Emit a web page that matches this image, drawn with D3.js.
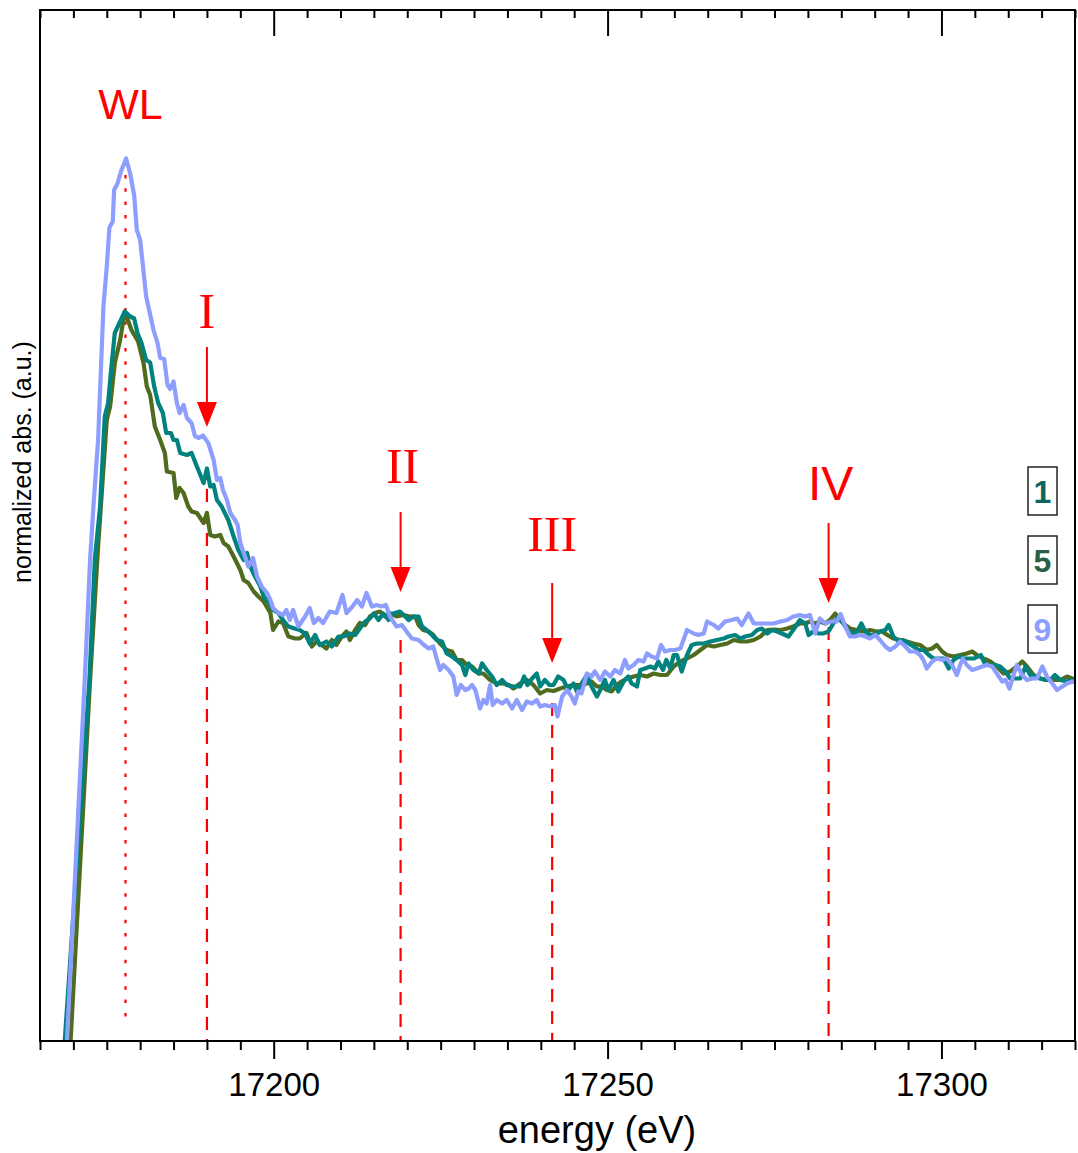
<!DOCTYPE html>
<html lang="en">
<head>
  <meta charset="UTF-8" />
  <title>XANES spectra</title>
  <script src="https://d3js.org/d3.v7.min.js"></script>
  <style>
    body { margin: 0; background: #fff; }
    svg { display: block; font-family: Arial, 'Liberation Sans', sans-serif; }
  </style>
</head>
<body>
<script>
  // series "5" (olive)
  const energy5 = [17169.1,17172.5,17173.7,17175.0,17175.5,17176.2,17177.0,17177.7,17178.7,17179.7,17180.5,17181.0,17181.5,17182.2,17183.0,17183.7,17184.0,17185.0,17185.4,17185.9,17186.5,17187.2,17187.7,17188.5,17189.5,17190.0,17190.5,17191.2,17192.0,17192.5,17193.2,17194.0,17195.0,17195.5,17196.2,17197.0,17197.7,17198.5,17199.5,17199.9,17200.7,17201.4,17202.2,17203.2,17203.9,17204.9,17205.7,17206.4,17207.2,17207.9,17208.7,17209.4,17210.2,17210.9,17211.4,17212.2,17212.9,17213.7,17214.4,17215.2,17215.9,17216.7,17217.4,17218.4,17219.4,17220.4,17221.2,17221.7,17222.4,17223.2,17223.9,17224.9,17225.9,17226.7,17227.4,17228.2,17228.9,17229.7,17230.7,17231.4,17232.4,17233.4,17234.4,17235.2,17235.9,17236.9,17237.9,17238.9,17239.9,17240.9,17241.9,17242.9,17243.9,17244.9,17245.9,17246.9,17247.6,17248.4,17249.1,17249.9,17250.6,17251.4,17252.1,17252.9,17253.9,17254.9,17255.9,17256.9,17257.9,17258.9,17259.9,17260.9,17261.9,17262.9,17263.9,17264.9,17265.9,17266.9,17267.9,17268.9,17269.9,17270.9,17271.9,17272.9,17273.9,17274.9,17275.9,17276.9,17277.8,17278.8,17279.6,17280.3,17281.1,17281.8,17282.6,17283.3,17284.1,17284.8,17285.6,17286.3,17287.3,17288.3,17289.3,17290.3,17291.1,17291.9,17292.8,17293.8,17294.8,17295.8,17296.8,17297.8,17298.6,17299.3,17300.1,17300.8,17301.8,17302.8,17303.8,17304.6,17305.3,17306.3,17307.3,17308.3,17309.3,17310.3,17311.3,17312.1,17312.8,17313.8,17314.8,17315.8,17316.8,17317.8,17318.8,17319.6,17320.4];
  const abs5 = [0.182,1.022,1.289,1.542,1.569,1.656,1.702,1.759,1.722,1.699,1.656,1.609,1.592,1.529,1.502,1.476,1.439,1.436,1.386,1.406,1.396,1.369,1.359,1.356,1.336,1.356,1.312,1.309,1.312,1.296,1.289,1.269,1.242,1.222,1.216,1.199,1.189,1.179,1.156,1.122,1.139,1.136,1.109,1.105,1.105,1.116,1.089,1.099,1.092,1.085,1.102,1.092,1.109,1.119,1.102,1.122,1.136,1.132,1.149,1.156,1.159,1.149,1.156,1.149,1.152,1.149,1.149,1.132,1.122,1.119,1.112,1.095,1.082,1.079,1.062,1.062,1.052,1.049,1.035,1.035,1.022,1.015,1.015,1.012,1.005,1.015,1.022,1.012,0.995,1.002,1.000,1.005,1.009,1.012,1.012,1.015,1.019,1.009,1.009,1.002,0.999,1.012,1.019,1.025,1.029,1.032,1.029,1.035,1.032,1.032,1.049,1.059,1.065,1.072,1.082,1.092,1.089,1.092,1.095,1.102,1.099,1.099,1.102,1.109,1.122,1.123,1.122,1.125,1.129,1.135,1.135,1.139,1.135,1.139,1.135,1.142,1.155,1.142,1.132,1.125,1.122,1.119,1.122,1.119,1.119,1.112,1.105,1.102,1.099,1.095,1.092,1.082,1.085,1.092,1.079,1.072,1.069,1.072,1.075,1.079,1.072,1.065,1.059,1.049,1.035,1.039,1.049,1.059,1.049,1.032,1.025,1.022,1.022,1.022,1.029,1.025,1.019];

  // series "1" (teal)
  const energy1 = [17168.1,17172.4,17173.2,17174.0,17174.7,17175.2,17175.7,17176.2,17177.0,17177.7,17178.5,17179.1,17179.6,17180.2,17180.9,17181.5,17182.1,17182.7,17183.4,17183.9,17184.6,17185.0,17185.5,17186.0,17187.0,17187.7,17188.5,17189.5,17190.0,17190.5,17191.0,17191.5,17192.2,17193.2,17194.0,17194.7,17195.5,17196.0,17196.5,17197.2,17198.0,17198.5,17199.2,17199.9,17200.7,17201.4,17202.2,17202.9,17203.9,17204.7,17205.4,17206.2,17206.9,17207.9,17208.7,17209.7,17210.4,17211.4,17212.2,17212.9,17213.7,17214.4,17215.0,17215.7,17216.4,17217.2,17217.9,17218.9,17219.7,17220.2,17220.9,17221.7,17222.2,17222.9,17223.7,17224.4,17225.2,17225.9,17226.7,17227.4,17228.2,17228.7,17229.2,17229.9,17230.7,17231.2,17231.9,17232.7,17233.4,17234.2,17234.9,17235.9,17236.9,17237.5,17238.0,17238.7,17239.4,17239.9,17240.6,17241.3,17241.9,17242.6,17243.4,17244.1,17244.9,17245.4,17246.1,17246.9,17247.6,17248.4,17248.9,17249.6,17250.1,17250.9,17251.6,17252.4,17253.1,17253.6,17254.4,17254.9,17255.6,17256.4,17257.1,17257.6,17258.3,17258.8,17259.4,17259.9,17260.4,17261.1,17261.9,17262.6,17263.4,17264.4,17265.4,17266.4,17267.4,17268.1,17269.1,17269.9,17270.6,17271.6,17272.4,17273.1,17273.9,17274.6,17275.4,17276.1,17277.1,17277.8,17278.8,17279.6,17280.1,17280.8,17281.6,17282.3,17283.1,17283.8,17284.6,17285.3,17286.1,17286.8,17287.4,17288.0,17288.6,17289.3,17290.1,17290.8,17291.6,17292.1,17292.8,17293.6,17294.3,17295.1,17295.8,17296.6,17297.3,17298.1,17298.8,17299.6,17300.3,17301.1,17301.8,17302.6,17303.4,17304.1,17304.9,17305.9,17306.6,17307.3,17308.1,17308.8,17309.6,17310.3,17311.1,17311.8,17312.6,17313.3,17314.1,17314.8,17315.6,17316.3,17317.0,17317.8,17318.8,17319.6,17320.4];
  const abs1 = [0.182,1.022,1.262,1.369,1.549,1.576,1.649,1.716,1.739,1.759,1.749,1.745,1.716,1.696,1.662,1.657,1.609,1.576,1.556,1.516,1.516,1.502,1.502,1.476,1.472,1.476,1.449,1.416,1.445,1.409,1.412,1.382,1.369,1.342,1.309,1.282,1.262,1.276,1.249,1.229,1.209,1.189,1.179,1.162,1.156,1.142,1.129,1.126,1.122,1.115,1.095,1.112,1.092,1.099,1.089,1.109,1.109,1.115,1.112,1.125,1.139,1.145,1.155,1.142,1.155,1.142,1.155,1.159,1.149,1.142,1.149,1.149,1.129,1.122,1.112,1.102,1.099,1.075,1.069,1.062,1.052,1.032,1.055,1.042,1.035,1.055,1.042,1.029,1.012,1.022,1.012,1.009,1.009,1.029,1.012,1.025,1.035,1.009,1.022,1.012,1.012,1.029,1.022,1.002,1.015,0.999,1.015,1.032,1.009,0.989,1.002,1.022,1.002,1.022,0.999,1.019,1.029,1.015,1.009,1.042,1.045,1.049,1.045,1.059,1.042,1.062,1.045,1.072,1.072,1.039,1.072,1.092,1.095,1.095,1.099,1.102,1.105,1.109,1.112,1.105,1.109,1.112,1.122,1.125,1.115,1.122,1.119,1.115,1.109,1.122,1.142,1.135,1.112,1.119,1.115,1.115,1.119,1.135,1.149,1.135,1.119,1.115,1.119,1.135,1.119,1.112,1.112,1.119,1.122,1.132,1.109,1.099,1.102,1.095,1.089,1.082,1.082,1.072,1.065,1.065,1.065,1.045,1.062,1.069,1.065,1.065,1.065,1.072,1.052,1.052,1.052,1.049,1.039,1.025,1.025,1.025,1.049,1.032,1.029,1.025,1.022,1.022,1.032,1.022,1.019,1.022,1.012];

  // series "9" (light blue)
  const energy9 = [17168.6,17171.7,17172.5,17173.0,17173.7,17174.5,17175.0,17175.4,17175.9,17176.1,17176.6,17177.2,17177.9,17178.5,17179.1,17179.5,17180.0,17180.9,17182.0,17182.6,17183.0,17183.6,17184.1,17184.5,17185.0,17185.5,17185.9,17186.5,17187.0,17187.7,17188.2,17188.8,17189.4,17190.2,17191.0,17191.5,17192.0,17192.4,17193.0,17193.5,17194.2,17194.6,17195.0,17195.7,17196.2,17196.9,17197.5,17198.2,17199.0,17199.5,17199.9,17200.7,17201.4,17201.9,17202.4,17202.9,17203.7,17204.7,17205.4,17206.0,17206.7,17207.4,17208.4,17209.4,17210.3,17210.9,17211.8,17212.5,17213.2,17213.9,17214.7,17215.4,17216.2,17216.8,17217.4,17218.4,17219.2,17219.9,17220.7,17221.7,17222.5,17223.2,17223.9,17224.4,17224.9,17225.4,17226.2,17226.9,17227.4,17228.0,17228.7,17229.2,17229.7,17230.2,17230.9,17231.4,17231.9,17232.4,17232.8,17233.4,17234.2,17234.9,17235.7,17236.4,17237.2,17237.9,17238.7,17239.4,17239.9,17240.6,17241.4,17242.1,17242.5,17243.2,17243.9,17244.6,17245.1,17245.6,17246.1,17246.9,17247.6,17248.1,17248.9,17249.6,17250.4,17251.1,17251.9,17252.6,17253.1,17253.9,17254.6,17255.4,17255.9,17256.6,17257.4,17258.0,17258.6,17259.4,17260.1,17260.9,17261.9,17262.9,17263.6,17264.4,17264.9,17265.9,17266.6,17267.6,17268.6,17269.4,17270.1,17271.1,17271.9,17272.9,17273.9,17274.9,17275.9,17276.9,17277.8,17278.8,17279.6,17280.3,17281.1,17281.8,17282.6,17283.5,17284.3,17284.9,17285.6,17286.3,17287.1,17287.8,17288.6,17289.3,17290.1,17290.8,17291.6,17292.3,17293.1,17293.8,17294.6,17295.3,17296.1,17296.8,17297.3,17297.8,17298.6,17299.3,17300.1,17300.8,17301.6,17302.3,17302.8,17303.2,17303.8,17304.6,17305.3,17306.1,17306.8,17307.6,17308.3,17309.1,17309.6,17310.2,17310.8,17311.3,17312.1,17312.8,17313.6,17314.3,17315.1,17315.8,17316.6,17317.3,17318.1,17318.8,17319.6,17320.4];
  const abs9 = [0.182,1.022,1.262,1.369,1.502,1.769,1.849,1.927,1.939,2.002,2.015,2.042,2.065,2.035,1.992,1.922,1.902,1.789,1.722,1.696,1.666,1.664,1.612,1.604,1.619,1.576,1.556,1.572,1.546,1.536,1.510,1.506,1.511,1.496,1.462,1.422,1.426,1.402,1.382,1.356,1.342,1.332,1.296,1.269,1.249,1.266,1.229,1.209,1.196,1.182,1.166,1.156,1.152,1.162,1.142,1.162,1.129,1.149,1.166,1.136,1.146,1.136,1.159,1.156,1.192,1.156,1.169,1.182,1.169,1.196,1.169,1.172,1.169,1.172,1.149,1.129,1.132,1.119,1.105,1.102,1.092,1.085,1.089,1.065,1.042,1.052,1.042,1.029,0.992,1.012,1.002,1.005,1.012,1.002,0.965,0.982,0.975,1.012,0.972,0.982,0.975,0.982,0.965,0.982,0.962,0.979,0.975,0.982,0.969,0.972,0.969,0.972,0.949,0.989,1.002,0.989,0.975,0.999,0.995,1.035,1.029,1.039,1.022,1.039,1.029,1.042,1.035,1.062,1.045,1.052,1.062,1.059,1.075,1.069,1.065,1.092,1.079,1.082,1.082,1.085,1.122,1.115,1.112,1.115,1.139,1.132,1.125,1.139,1.142,1.145,1.132,1.155,1.135,1.135,1.135,1.135,1.139,1.142,1.149,1.152,1.149,1.152,1.115,1.145,1.135,1.139,1.139,1.154,1.129,1.109,1.109,1.112,1.109,1.105,1.112,1.102,1.089,1.082,1.089,1.099,1.089,1.079,1.079,1.072,1.062,1.045,1.059,1.065,1.062,1.065,1.052,1.032,1.052,1.065,1.052,1.042,1.045,1.049,1.052,1.049,1.035,1.019,1.022,1.005,1.032,1.052,1.032,1.022,1.025,1.025,1.049,1.029,1.015,1.002,1.009,1.015,1.019,1.019];

  const seriesColors = ["#4f6b1e", "#00827f", "#8d9eff"];
  const legendNames = ["1", "5", "9"];
  const legendColors = ["#0e6660", "#2b6048", "#8d9eff"];

  // feature markers: energy, dashed-line top, arrow tip, label baseline (abs units)
  const featureNames = ["WL", "I", "II", "III", "IV"];
  const featureEnergy = [17177.8, 17190.0, 17219.0, 17241.7, 17283.1];
  const featureLineTop = [2.032, 1.448, 1.102, 0.976, 1.128];
  const featureArrowTip = [null, 1.528, 1.198, 1.056, 1.176];
  const featureLabelY = [2.144, 1.726, 1.416, 1.28, 1.382];

  const xTicks = [17200, 17250, 17300];

  const width = 1078, height = 1153;
  const margin = { left: 40, right: 3, top: 10, bottom: 112 };
  const plotW = width - margin.left - margin.right;
  const plotH = height - margin.top - margin.bottom;

  const x = d3.scaleLinear().domain([17165, 17320]).range([margin.left, margin.left + plotW]);
  const y = d3.scaleLinear().domain([0.3, 2.362]).range([margin.top + plotH, margin.top]);

  const svg = d3.select("body").append("svg")
    .attr("width", width)
    .attr("height", height);

  svg.append("defs").append("clipPath").attr("id", "plot-clip")
    .append("rect")
    .attr("x", margin.left).attr("y", margin.top)
    .attr("width", plotW).attr("height", plotH);

  // reference lines
  featureEnergy.forEach((e, i) => {
    svg.append("line")
      .attr("x1", x(e)).attr("x2", x(e))
      .attr("y1", y(featureLineTop[i]))
      .attr("y2", i === 0 ? y(0.33) : y(0.3))
      .attr("stroke", "#ff0000")
      .attr("stroke-width", 2.2)
      .attr("stroke-dasharray", i === 0 ? "3.5,9.8" : "13,9");
  });

  // spectra
  const line = d3.line().x(d => x(d[0])).y(d => y(d[1]));
  const allSeries = [d3.zip(energy5, abs5), d3.zip(energy1, abs1), d3.zip(energy9, abs9)];
  const curves = svg.append("g").attr("clip-path", "url(#plot-clip)");
  allSeries.forEach((s, i) => {
    curves.append("path")
      .datum(s)
      .attr("d", line)
      .attr("fill", "none")
      .attr("stroke", seriesColors[i])
      .attr("stroke-width", 4.2)
      .attr("stroke-linejoin", "round");
  });

  // frame
  svg.append("rect")
    .attr("x", margin.left).attr("y", margin.top)
    .attr("width", plotW).attr("height", plotH)
    .attr("fill", "none").attr("stroke", "#000").attr("stroke-width", 2);

  // bottom axis (outward ticks)
  const minor = d3.range(17165, 17321, 5).filter(v => !xTicks.includes(v));
  const bottomAxis = svg.append("g").attr("transform", `translate(0,${margin.top + plotH})`);
  bottomAxis.call(d3.axisBottom(x).tickValues(xTicks).tickSize(18).tickPadding(14).tickFormat(d3.format("d")))
    .call(g => g.select(".domain").remove())
    .call(g => g.selectAll("line").attr("stroke-width", 2))
    .call(g => g.selectAll("text").attr("font-size", 33).attr("fill", "#000")
      .attr("font-family", "Arial, 'Liberation Sans', sans-serif"));
  bottomAxis.append("g")
    .call(d3.axisBottom(x).tickValues(minor).tickSize(9).tickFormat(""))
    .call(g => g.select(".domain").remove())
    .call(g => g.selectAll("line").attr("stroke-width", 2));

  // top axis (inward ticks)
  const topAxis = svg.append("g").attr("transform", `translate(0,${margin.top})`);
  topAxis.call(d3.axisBottom(x).tickValues(xTicks).tickSize(26).tickFormat(""))
    .call(g => g.select(".domain").remove())
    .call(g => g.selectAll("line").attr("stroke-width", 2));
  topAxis.append("g")
    .call(d3.axisBottom(x).tickValues(minor).tickSize(8).tickFormat(""))
    .call(g => g.select(".domain").remove())
    .call(g => g.selectAll("line").attr("stroke-width", 2));

  // axis titles
  svg.append("text")
    .attr("x", 597).attr("y", 1143)
    .attr("text-anchor", "middle")
    .attr("font-size", 38)
    .text("energy (eV)");

  svg.append("text")
    .attr("transform", "translate(31,462) rotate(-90)")
    .attr("text-anchor", "middle")
    .attr("font-size", 25)
    .text("normalized abs. (a.u.)");

  // arrows and labels
  featureEnergy.forEach((e, i) => {
    const cx = x(e);
    if (featureArrowTip[i] !== null) {
      const tip = y(featureArrowTip[i]);
      svg.append("line")
        .attr("x1", cx).attr("x2", cx)
        .attr("y1", tip - 80).attr("y2", tip - 20)
        .attr("stroke", "#ff0000").attr("stroke-width", 2);
      svg.append("path")
        .attr("d", `M${cx - 10},${tip - 25}L${cx + 10},${tip - 25}L${cx},${tip}Z`)
        .attr("fill", "#ff0000");
    }
    const serif = i >= 1 && i <= 3;
    const dx = i === 0 ? 5 : (i === 2 || i === 4 ? 2 : 0);
    svg.append("text")
      .attr("x", cx + dx)
      .attr("y", y(featureLabelY[i]))
      .attr("text-anchor", "middle")
      .attr("fill", "#ff0000")
      .attr("font-family", serif ? "'Times New Roman', 'Liberation Serif', serif" : "Arial, 'Liberation Sans', sans-serif")
      .attr("font-size", i === 0 ? 43 : serif ? 50 : 48)
      .text(featureNames[i]);
  });

  // legend boxes
  legendNames.forEach((n, i) => {
    const boxTop = 467 + i * 69;
    svg.append("rect")
      .attr("x", 1028).attr("y", boxTop)
      .attr("width", 29).attr("height", 48)
      .attr("fill", "#fff").attr("stroke", "#222").attr("stroke-width", 1.5);
    svg.append("text")
      .attr("x", 1042.5).attr("y", boxTop + 36)
      .attr("text-anchor", "middle")
      .attr("font-size", 32).attr("font-weight", "bold")
      .attr("fill", legendColors[i])
      .text(n);
  });
</script>
</body>
</html>
